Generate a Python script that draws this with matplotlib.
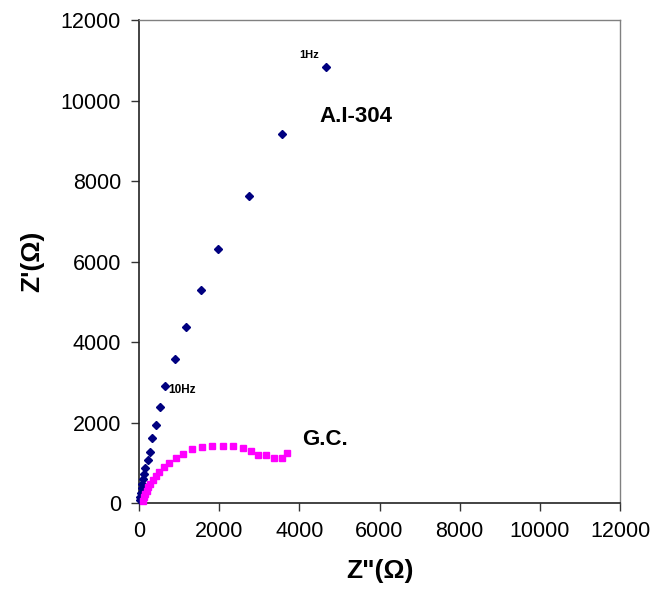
import matplotlib.pyplot as plt

plt.rcParams['font.family'] = ['Liberation Sans', 'DejaVu Sans']

# Nyquist data, A.I-304 electrode (Z'' real part, Z' imaginary part)
ai304_zr = [4660, 3567, 2733, 1958, 1550, 1167, 900, 658, 525, 417, 333, 275,
            217, 158, 133, 108, 83, 67, 50, 33, 25]
ai304_zi = [10840, 9158, 7626, 6317, 5291, 4364, 3569, 2906, 2393, 1937, 1606,
            1275, 1068, 877, 720, 588, 472, 365, 256, 157, 75]

# Nyquist data, G.C. electrode
gc_zr = [3692, 3567, 3358, 3175, 2967, 2800, 2583, 2342, 2092, 1825, 1567, 1333,
         1108, 917, 750, 617, 508, 417, 342, 283, 233, 192, 150, 117, 92]
gc_zi = [1234, 1110, 1110, 1192, 1192, 1300, 1358, 1416, 1416, 1416, 1383, 1341,
         1217, 1110, 1001, 886, 770, 670, 571, 472, 390, 306, 224, 141, 57]

ticks = [0, 2000, 4000, 6000, 8000, 10000, 12000]

fig = plt.figure(figsize=(6.53, 5.94), dpi=100)
ax = fig.add_axes([0.2129, 0.1532, 0.7366, 0.8131])

ax.plot(ai304_zr, ai304_zi, linestyle='none', marker='D', markersize=4.5,
        color='#000080', clip_on=False, zorder=3)
ax.plot(gc_zr, gc_zi, linestyle='none', marker='s', markersize=5,
        color='#FF00FF', clip_on=False, zorder=3)

ax.set_xlim(0, 12000)
ax.set_ylim(0, 12000)
ax.set_xticks(ticks)
ax.set_yticks(ticks)
ax.tick_params(direction='out', length=6, width=1, labelsize=15.5, pad=7,
               color='#333333')

for side in ('left', 'bottom'):
    ax.spines[side].set_color('#222222')
    ax.spines[side].set_linewidth(1.2)
for side in ('top', 'right'):
    ax.spines[side].set_color('#808080')
    ax.spines[side].set_linewidth(1.0)

ax.set_xlabel('Z"(Ω)', fontsize=19, fontweight='bold', labelpad=12)
ax.set_ylabel("Z'(Ω)", fontsize=19, fontweight='bold', labelpad=12)

ax.text(4000, 11054, '1Hz', fontsize=8, fontweight='bold')
ax.text(725, 2732, '10Hz', fontsize=8.5, fontweight='bold')
ax.text(4500, 9464, 'A.I-304', fontsize=16, fontweight='bold')
ax.text(4075, 1441, 'G.C.', fontsize=16, fontweight='bold')

fig.savefig('out.png', dpi=100)
